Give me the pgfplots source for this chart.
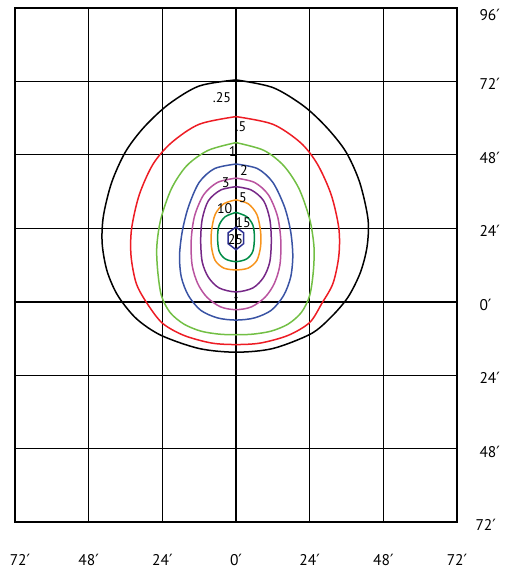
\documentclass[border=0pt]{standalone}
\usepackage{fontspec}
\setmainfont{PT Sans}
\newfontfamily\dv{DejaVu Sans}
\newcommand{\pr}{{\dv ′}}
\usepackage{pgfplots}
\pgfplotsset{compat=1.18}
\definecolor{cred}{RGB}{237,28,36}
\definecolor{cgreen}{RGB}{114,191,68}
\definecolor{cblue}{RGB}{57,83,164}
\definecolor{cmag}{RGB}{185,83,159}
\definecolor{cpurp}{RGB}{118,40,135}
\definecolor{corange}{RGB}{247,148,29}
\definecolor{cdgreen}{RGB}{0,140,70}
\definecolor{chex}{RGB}{46,49,146}
\begin{document}
\begin{tikzpicture}
\path[use as bounding box] (-15pt,-53pt) rectangle (490pt,522pt);
\begin{axis}[
  scale only axis, width=442pt, height=514pt,
  xmin=-72, xmax=72, ymin=-72, ymax=96,
  xtick={-72,-48,-24,0,24,48,72},
  ytick={-72,-48,-24,0,24,48,72,96},
  xticklabels={\kern10pt 72\pr,48\pr,24\pr,0\pr,24\pr,48\pr,72\pr},
  yticklabels={\kern-4pt 72\pr,48\pr,24\pr,0\pr,24\pr,48\pr,72\pr,\raisebox{-4pt}{96\pr}},
  yticklabel pos=right,
  major tick length=0pt,
  xticklabel style={anchor=base, yshift=-43pt, font=\fontsize{15.5}{18}\selectfont},
  yticklabel style={anchor=base west, xshift=19pt, yshift=-8.5pt, font=\fontsize{15.5}{18}\selectfont},
  grid=major,
  major grid style={black, line width=0.9pt},
  axis line style={black, line width=1.5pt},
  clip=false,
]
\addplot[black, line width=1.8pt] coordinates {(0,-72) (0,96)};
\addplot[black, line width=1.8pt] coordinates {(-72,0) (72,0)};
% .25
\addplot[black, line width=1.5pt, smooth] coordinates {
(0,72.5) (-12,70.5) (-22,64.5) (-30,57) (-36,49) (-40.5,39) (-43.2,28) (-43.6,19) (-42,10) (-38.5,2) (-32.5,-5.5) (-24.4,-11) (-12,-15.3) (0,-16.5) (12,-15.3) (24.4,-10.5) (31,-5) (36.5,1.5) (40.5,9.5) (42.7,18) (43,27) (40.3,39) (35.8,49) (29.5,57) (22,64) (12,70) (0,72.5)};
% .5
\addplot[cred, line width=1.5pt, smooth] coordinates {
(0,60.5) (-12,58) (-21,52) (-27,45) (-31.5,35) (-34,24) (-34.2,15) (-32.5,6) (-29,-0.5) (-24,-7) (-17,-11) (-8,-13.5) (0,-14) (8,-13.5) (17,-11) (24,-6.8) (28,-0.5) (31.6,6) (33.5,15) (33.5,24) (31,35) (26.5,45) (21,52) (12,58) (0,60.5)};
% 1
\addplot[cgreen, line width=1.5pt, smooth] coordinates {
(0,52) (-9,49.5) (-16,44.5) (-21,37) (-24.5,27) (-25.8,18) (-25.5,10) (-24.3,2) (-21.5,-3.5) (-17,-7.3) (-11.5,-9.6) (-5.5,-10.6) (0,-10.8) (5.5,-10.6) (11.5,-9.6) (17,-7.3) (21.3,-3.5) (24,2) (25.2,10) (25.4,18) (24,27) (20.5,37) (15.5,44.5) (9,49.5) (0,52)};
% 2
\addplot[cblue, line width=1.5pt, smooth] coordinates {
(0,45) (-7,43.5) (-12,39) (-15.5,31) (-17.5,23) (-18.4,15) (-17.8,8) (-15.5,2) (-11.5,-2.8) (-6,-5.3) (0,-6) (6,-5.3) (11.5,-2.8) (15.5,2) (17.8,8) (18.5,15) (17.8,23) (15.8,31) (12,39) (7,43.5) (0,45)};
% 3
\addplot[cmag, line width=1.5pt, smooth] coordinates {
(0,40.4) (-6,39) (-10.5,35) (-13.5,28) (-14.6,20) (-14.3,12) (-12.5,6) (-9.5,1.5) (-5,-1.7) (0,-2.6) (5,-1.7) (9.5,1.5) (12.5,6) (14.3,12) (14.6,20) (13.5,28) (10.5,35) (6,39) (0,40.4)};
% 5
\addplot[cpurp, line width=1.5pt, smooth] coordinates {
(0,37.6) (-5,36.5) (-9,33) (-11,27) (-11.5,20) (-11,13) (-9,8) (-5.5,4.5) (0,3.2) (5.5,4.5) (9,8) (11,13) (11.5,20) (11,27) (9,33) (5,36.5) (0,37.6)};
% 10
\addplot[corange, line width=1.5pt, smooth] coordinates {
(0,33.3) (-4,32) (-6.8,28.5) (-8,23) (-8,18) (-6.8,13.5) (-4,11) (0,10.4) (4,11) (6.8,13.5) (8,18) (8,23) (6.8,28.5) (4,32) (0,33.3)};
% 15
\addplot[cdgreen, line width=1.5pt, smooth] coordinates {
(0,29.2) (-3.5,27.8) (-5.5,25) (-6,21) (-5.5,16.5) (-3.5,14) (0,13.1) (3.5,14) (5.5,16.5) (6,21) (5.5,25) (3.5,27.8) (0,29.2)};
% 25
\addplot[chex, line width=1.5pt, sharp plot] coordinates {
(0,24.4) (-2.6,22.5) (-2.6,19) (0,17) (2.5,19) (2.5,22.5) (0,24.4)};
\addplot[only marks, black, mark=triangle*, mark size=1.6pt] coordinates {(0,1.5)};
\begin{scope}[every node/.style={font=\fontsize{14}{16}\selectfont, inner sep=0pt}]
\node at (axis cs:-4.6,66.8) {.25};
\node at (axis cs:1.6,57.3) {.5};
\node at (axis cs:-1.1,49) {1};
\node at (axis cs:2.6,43) {2};
\node at (axis cs:-3.4,38.8) {3};
\node at (axis cs:2.3,34) {5};
\node at (axis cs:-3.7,30.5) {10};
\node at (axis cs:2.3,25.9) {15};
\node at (axis cs:-0.2,20.4) {25};
\end{scope}
\end{axis}
\end{tikzpicture}
\end{document}
